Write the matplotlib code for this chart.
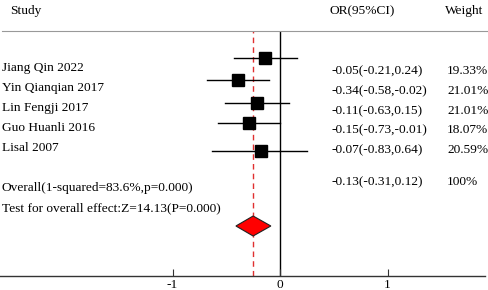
import matplotlib
matplotlib.use("Agg")
import matplotlib.pyplot as plt
from matplotlib.lines import Line2D
from matplotlib.patches import Polygon

# ---- data ----
studies = ["Jiang Qin 2022", "Yin Qianqian 2017", "Lin Fengji 2017",
           "Guo Huanli 2016", "Lisal 2007"]
or_text = ["-0.05(-0.21,0.24)", "-0.34(-0.58,-0.02)", "-0.11(-0.63,0.15)",
           "-0.15(-0.73,-0.01)", "-0.07(-0.83,0.64)"]
weight_text = ["19.33%", "21.01%", "21.01%", "18.07%", "20.59%"]
# drawn point estimates and CI as they appear on the plot
est = [-0.135, -0.39, -0.21, -0.285, -0.18]
lo = [-0.43, -0.68, -0.51, -0.58, -0.635]
hi = [0.155, -0.10, 0.08, 0.0, 0.255]
overall_est = -0.25
overall_lo = -0.41
overall_hi = -0.085
overall_or = "-0.13(-0.31,0.12)"
overall_weight = "100%"
overall_label = "Overall(1-squared=83.6%,p=0.000)"
test_label = "Test for overall effect:Z=14.13(P=0.000)"
xticks = [-1, 0, 1]

# ---- layout ----
W, H = 489, 290
plt.rcParams['font.family'] = ['Liberation Serif', 'DejaVu Serif']
fig = plt.figure(figsize=(W / 100, H / 100), dpi=100)

# calibrate font size so the overall label is ~191 px wide as in the reference
r = fig.canvas.get_renderer()
_t = fig.text(0, 0, overall_label, fontsize=10)
FS = 10 * 191 / _t.get_window_extent(r).width
_t.remove()

x0_px, x1_px = 0, 485
top_px, bot_px = 31, 276
ax = fig.add_axes([x0_px / W, 1 - bot_px / H, (x1_px - x0_px) / W, (bot_px - top_px) / H])
ax.patch.set_alpha(0)
scale = 107.5
ax.set_xlim((x0_px - 280) / scale, (x1_px - 280) / scale)
ax.set_ylim(bot_px, top_px)
for s in ["top", "right", "left"]:
    ax.spines[s].set_visible(False)
ax.spines["bottom"].set_linewidth(1.0)
ax.spines["bottom"].set_color("#333333")
ax.set_yticks([])
ax.set_xticks(xticks)
ax.set_xticklabels([str(t) for t in xticks], fontsize=FS)
ax.tick_params(axis="x", direction="in", length=5, width=0.8, pad=2, colors="#333333")
for lab in ax.get_xticklabels():
    lab.set_color("black")

# vertical null line and overall dashed line
ax.axvline(0, color="black", lw=1.0, zorder=1)
ax.axvline(overall_est, color="#e03030", lw=1.0, ls=(0, (4, 3)), zorder=1)

marker_y = [58, 80, 103, 123, 151]
for e, l, h, y in zip(est, lo, hi, marker_y):
    ax.plot([l, h], [y, y], color="black", lw=1.0, zorder=2)
    ax.plot([e], [y], marker="s", ms=8, color="black", zorder=3)

dy = 226
dh = 10
diamond = Polygon([[overall_lo, dy], [overall_est, dy - dh], [overall_hi, dy],
                   [overall_est, dy + dh]], closed=True, facecolor="#ff0000",
                  edgecolor="#222222", lw=0.8, zorder=3)
ax.add_patch(diamond)

# top separator line
fig.add_artist(Line2D([2 / W, 487 / W], [1 - 31 / H, 1 - 31 / H], color="#999999", lw=0.8))

def ftext(x, y, s, ha="left"):
    fig.text(x / W, 1 - y / H, s, ha=ha, va="center", fontsize=FS)

ftext(10, 11, "Study")
ftext(330, 11, "OR(95%CI)")
ftext(445, 11, "Weight")

left_y = [68, 88, 108, 128, 148]
right_y = [71, 91, 111, 130, 150]
for name, ly, ot, wt, ry in zip(studies, left_y, or_text, weight_text, right_y):
    ftext(2, ly, name)
    ftext(331, ry, ot)
    ftext(447, ry, wt)

ftext(2, 188, overall_label)
ftext(2, 208, test_label)
ftext(331, 182, overall_or)
ftext(447, 182, overall_weight)

fig.savefig("out.png", dpi=100)
